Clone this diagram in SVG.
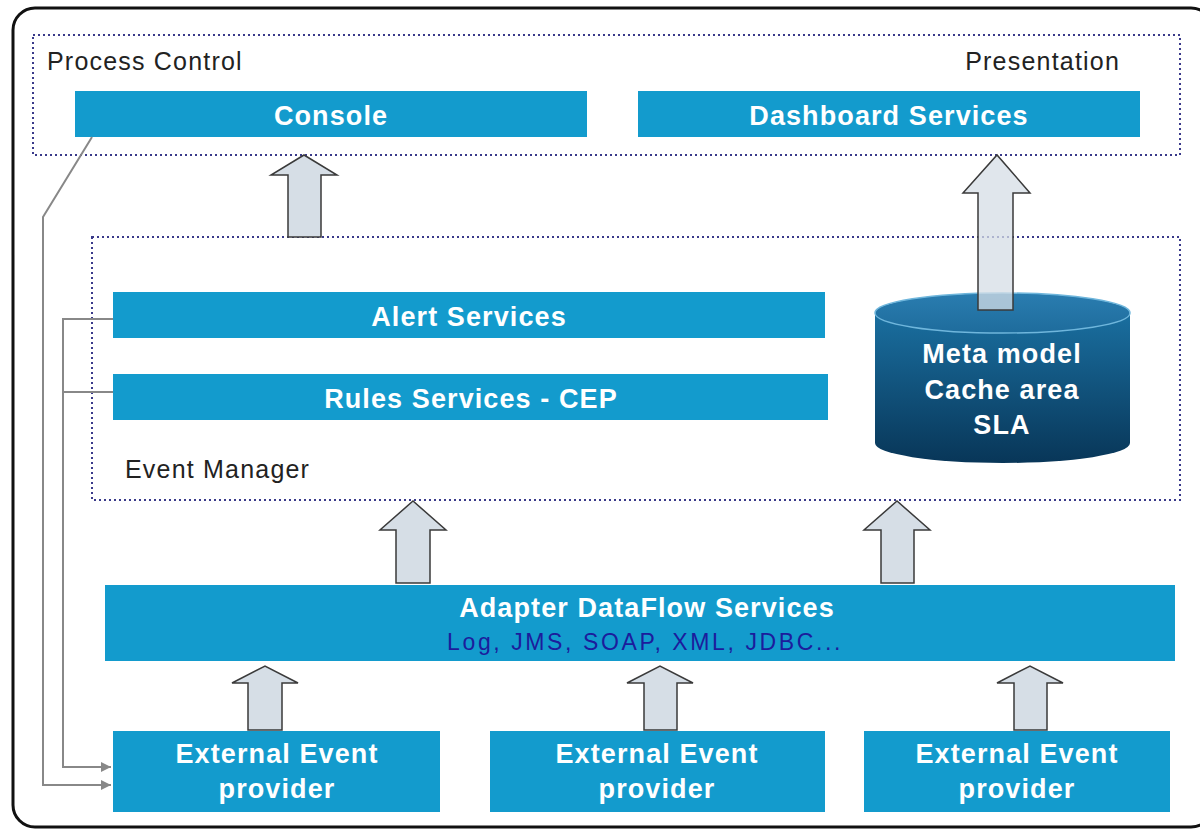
<svg xmlns="http://www.w3.org/2000/svg" width="1200" height="829" viewBox="0 0 1200 829">
<defs>
<style>
.bar{fill:#139bcd;}
.bt{font-family:"Liberation Sans",Arial,sans-serif;font-weight:bold;font-size:27px;fill:#ffffff;text-anchor:middle;letter-spacing:1.1px;}
.lbl{font-family:"Liberation Sans",Arial,sans-serif;font-size:25px;fill:#222222;letter-spacing:1.2px;}
.dot{fill:none;stroke:#3a3a8a;stroke-width:2;stroke-dasharray:2 3;}
.arr{fill:#d6dee6;stroke:#3a3a3a;stroke-width:1.5;}
.con{fill:none;stroke:#888888;stroke-width:2;}
</style>
<marker id="ah" viewBox="0 0 10 10" refX="10" refY="5" markerWidth="5" markerHeight="5" orient="auto" markerUnits="strokeWidth">
<path d="M0,0 L10,5 L0,10 z" fill="#888888"/>
</marker>
<linearGradient id="cylBody" x1="0" y1="0" x2="0" y2="1">
<stop offset="0" stop-color="#1a6fa0"/>
<stop offset="1" stop-color="#083658"/>
</linearGradient>
<linearGradient id="cylTop" x1="0" y1="0" x2="0" y2="1">
<stop offset="0" stop-color="#2a7db0"/>
<stop offset="1" stop-color="#1e6c9c"/>
</linearGradient>
</defs>
<rect x="0" y="0" width="1200" height="829" fill="#ffffff"/>
<rect x="13" y="8" width="1200" height="819" rx="22" ry="22" fill="none" stroke="#111111" stroke-width="3"/>

<g id="process-control">
<rect class="dot" x="33" y="35" width="1147" height="120"/>
<text class="lbl" x="47" y="70">Process Control</text>
<text class="lbl" x="1120" y="70" text-anchor="end">Presentation</text>
</g>
<g id="console">
<rect class="bar" x="75" y="91" width="512" height="46"/>
<text class="bt" x="331" y="125">Console</text>
</g>
<g id="dashboard">
<rect class="bar" x="638" y="91" width="502" height="46"/>
<text class="bt" x="889" y="125">Dashboard Services</text>
</g>

<g id="event-manager">
<rect class="dot" x="92" y="237" width="1088" height="263"/>
<text class="lbl" x="125" y="478">Event Manager</text>
</g>
<g id="alert">
<rect class="bar" x="113" y="292" width="712" height="46"/>
<text class="bt" x="469" y="326">Alert Services</text>
</g>
<g id="rules">
<rect class="bar" x="113" y="374" width="715" height="46"/>
<text class="bt" x="471" y="408">Rules Services - CEP</text>
</g>
<g id="cache">
<path d="M875,313 L875,443 A127.5,20 0 0 0 1130,443 L1130,313 Z" fill="url(#cylBody)"/>
<ellipse cx="1002.5" cy="313" rx="127.5" ry="20" fill="url(#cylTop)" stroke="#6fb6dc" stroke-width="1.5"/>
<text class="bt" x="1002" y="363">Meta model</text>
<text class="bt" x="1002" y="399">Cache area</text>
<text class="bt" x="1002" y="434">SLA</text>
</g>

<g id="adapter">
<rect class="bar" x="105" y="585" width="1070" height="76"/>
<text class="bt" x="647" y="617">Adapter DataFlow Services</text>
<text x="645" y="650" text-anchor="middle" font-family="'Liberation Sans',Arial,sans-serif" font-size="23" letter-spacing="2.6" fill="#1c1c9c">Log, JMS, SOAP, XML, JDBC...</text>
</g>

<g id="provider1">
<rect class="bar" x="113" y="731" width="327" height="81"/>
<text class="bt" x="277" y="763">External Event</text>
<text class="bt" x="277" y="798">provider</text>
</g>
<g id="provider2">
<rect class="bar" x="490" y="731" width="335" height="81"/>
<text class="bt" x="657" y="763">External Event</text>
<text class="bt" x="657" y="798">provider</text>
</g>
<g id="provider3">
<rect class="bar" x="864" y="731" width="306" height="81"/>
<text class="bt" x="1017" y="763">External Event</text>
<text class="bt" x="1017" y="798">provider</text>
</g>

<g id="connectors">
<path class="arr" d="M288,237 L288,175 L271,175 L304,155 L337,175 L321,175 L321,237 Z"/>
<path class="arr" d="M978,310 L978,193 L963,193 L997,155 L1030,193 L1013,193 L1013,310 Z" fill-opacity="0.75"/>
<path class="arr" d="M396,583 L396,530 L380,530 L413,501 L446,530 L430,530 L430,583 Z"/>
<path class="arr" d="M881,583 L881,530 L864,530 L897,501 L930,530 L914,530 L914,583 Z"/>
<path class="arr" d="M248,730 L248,683 L232,683 L265,666 L298,683 L282,683 L282,730 Z"/>
<path class="arr" d="M644,730 L644,683 L627,683 L660,666 L693,683 L677,683 L677,730 Z"/>
<path class="arr" d="M1014,730 L1014,683 L997,683 L1030,666 L1063,683 L1047,683 L1047,730 Z"/>
<path class="con" d="M92,137 L43,217 L43,785 L111,785" marker-end="url(#ah)"/>
<path class="con" d="M113,319 L63,319 L63,767 L111,767" marker-end="url(#ah)"/>
<path class="con" d="M63,392 L113,392"/>
</g>
</svg>
